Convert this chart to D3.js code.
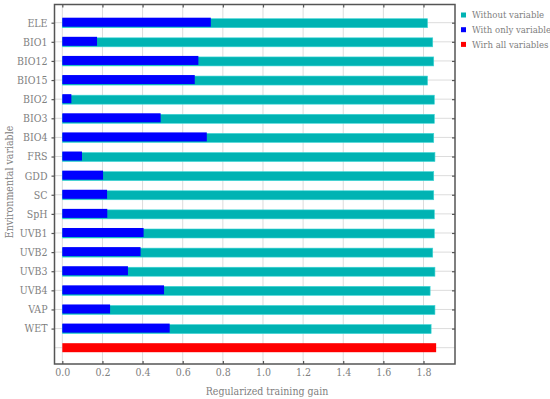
<!DOCTYPE html>
<html>
<head>
<meta charset="utf-8">
<script src="https://cdn.jsdelivr.net/npm/d3@7"></script>
<style>
  body { margin: 0; background: #fff; }
</style>
</head>
<body>
<div id="chart"></div>
<script>
// Data
const variables = ["ELE", "BIO1", "BIO12", "BIO15", "BIO2", "BIO3", "BIO4", "FRS", "GDD",
    "SC", "SpH", "UVB1", "UVB2", "UVB3", "UVB4", "VAP", "WET"];
const withoutVariable = [1.82, 1.846, 1.851, 1.82, 1.854, 1.854, 1.851, 1.857, 1.851,
    1.851, 1.854, 1.854, 1.846, 1.857, 1.833, 1.857, 1.838];
const withOnlyVariable = [0.74, 0.173, 0.678, 0.66, 0.045, 0.49, 0.72, 0.098, 0.203,
    0.223, 0.224, 0.405, 0.39, 0.327, 0.507, 0.238, 0.535];
const allVariables = 1.863;
const xTicks = [0.0, 0.2, 0.4, 0.6, 0.8, 1.0, 1.2, 1.4, 1.6, 1.8];
const legendLabels = ["Without variable", "With only variable", "Wirh all variables"];

const width = 550, height = 399;
const margin = {top: 4.5, right: 95, bottom: 35, left: 54.5};
const innerWidth = width - margin.left - margin.right;   // 400.5
const innerHeight = height - margin.top - margin.bottom; // 359.5
const serif = "'DejaVu Serif Condensed', 'DejaVu Serif', serif";
const fs = 10.5;

const teal = "#00b3b3", blue = "#0000ff", red = "#ff0000";
const frameColor = "#555", gridColor = "#dcdcdc", labelColor = "#808080";

const svg = d3.select("#chart")
    .append("svg")
    .attr("width", width)
    .attr("height", height)
    .attr("font-family", serif);

const innerChart = svg.append("g")
    .attr("transform", `translate(${margin.left},${margin.top})`);

// scales
const xScale = d3.scaleLinear()
    .domain([-0.039, 1.957])
    .range([0, innerWidth]);

const rows = [...variables, "ALL"];
const yScale = d3.scalePoint()
    .domain(rows)
    .range([18.2, 343.2]);

const barH = 9;

/* grid */
innerChart.append("g")
    .selectAll("line")
    .data(xTicks)
    .join("line")
        .attr("x1", d => xScale(d)).attr("x2", d => xScale(d))
        .attr("y1", 0).attr("y2", innerHeight)
        .attr("stroke", gridColor).attr("stroke-width", 1);

innerChart.append("g")
    .selectAll("line")
    .data(rows)
    .join("line")
        .attr("x1", 0).attr("x2", innerWidth)
        .attr("y1", d => yScale(d)).attr("y2", d => yScale(d))
        .attr("stroke", gridColor).attr("stroke-width", 1);

/* bars */
innerChart.append("g")
    .selectAll("rect")
    .data(variables)
    .join("rect")
        .attr("x", xScale(0))
        .attr("y", d => yScale(d) - barH / 2 + 0.5)
        .attr("width", (d, i) => xScale(withoutVariable[i]) - xScale(0))
        .attr("height", barH)
        .attr("fill", teal)
        .attr("stroke", "#3fd6d6").attr("stroke-width", 0.6);

innerChart.append("g")
    .selectAll("rect")
    .data(variables)
    .join("rect")
        .attr("x", xScale(0))
        .attr("y", d => yScale(d) - barH / 2 - 0.5)
        .attr("width", (d, i) => xScale(withOnlyVariable[i]) - xScale(0))
        .attr("height", barH)
        .attr("fill", blue);

innerChart.append("rect")
    .attr("x", xScale(0))
    .attr("y", yScale("ALL") - barH / 2)
    .attr("width", xScale(allVariables) - xScale(0))
    .attr("height", barH)
    .attr("fill", red);

/* axes */
const styleAxis = g => {
    g.attr("font-family", serif);
    g.select(".domain").remove();
    g.selectAll(".tick line").attr("stroke", frameColor).attr("stroke-width", 1.2);
    g.selectAll(".tick text").attr("fill", labelColor).attr("font-size", fs);
};
const noLabels = g => g.selectAll(".tick text").remove();

innerChart.append("g")
    .attr("transform", `translate(0,${innerHeight})`)
    .call(d3.axisBottom(xScale).tickValues(xTicks).tickFormat(d3.format(".1f"))
        .tickSizeInner(-3).tickPadding(5))
    .call(styleAxis);

innerChart.append("g")
    .call(d3.axisTop(xScale).tickValues(xTicks).tickSizeInner(-3))
    .call(styleAxis)
    .call(noLabels);

innerChart.append("g")
    .call(d3.axisLeft(yScale).tickValues(variables).tickSizeInner(3).tickPadding(4))
    .call(styleAxis);

innerChart.append("g")
    .attr("transform", `translate(${innerWidth},0)`)
    .call(d3.axisRight(yScale).tickValues(variables).tickSizeInner(-3))
    .call(styleAxis)
    .call(noLabels);

// frame
innerChart.append("rect")
    .attr("x", 0).attr("y", 0)
    .attr("width", innerWidth).attr("height", innerHeight)
    .attr("fill", "none")
    .attr("stroke", frameColor)
    .attr("stroke-width", 1.5);

/* axis labels */
svg.append("text")
    .text("Regularized training gain")
    .attr("x", 267).attr("y", 395)
    .attr("text-anchor", "middle")
    .attr("font-size", fs)
    .attr("fill", labelColor);

svg.append("text")
    .text("Environmental variable")
    .attr("transform", "translate(13,182) rotate(-90)")
    .attr("text-anchor", "middle")
    .attr("font-size", fs)
    .attr("fill", labelColor);

/* legend */
const legend = svg.append("g")
    .attr("transform", "translate(461,15)");

legend.selectAll("rect")
    .data(legendLabels)
    .join("rect")
        .attr("x", 0)
        .attr("y", (d, i) => i * 14.7 - 2.5)
        .attr("width", 5).attr("height", 5)
        .attr("fill", (d, i) => [teal, blue, red][i]);

legend.selectAll("text")
    .data(legendLabels)
    .join("text")
        .text(d => d)
        .attr("x", 11)
        .attr("y", (d, i) => i * 14.7)
        .attr("dy", "0.35em")
        .attr("font-size", 9.5)
        .attr("fill", labelColor);
</script>
</body>
</html>
